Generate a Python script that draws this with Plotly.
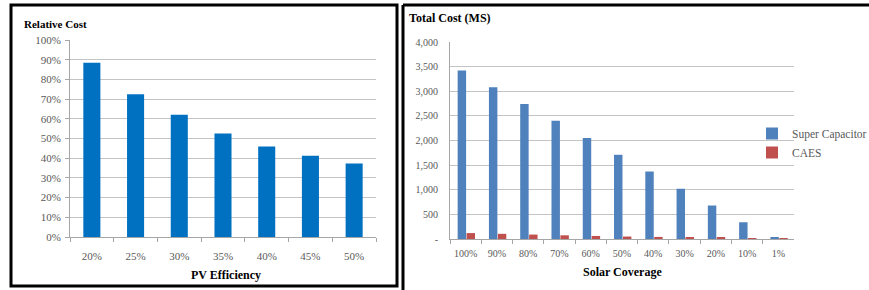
import plotly.graph_objects as go

# ---------------- data ----------------
pv_efficiency = ["20%", "25%", "30%", "35%", "40%", "45%", "50%"]
relative_cost = [88.5, 72.5, 62, 52.5, 46, 41.3, 37.3]

solar_coverage = ["100%", "90%", "80%", "70%", "60%", "50%", "40%", "30%", "20%", "10%", "1%"]
super_capacitor = [3420, 3080, 2740, 2400, 2050, 1710, 1370, 1020, 680, 340, 30]
caes = [120, 105, 90, 75, 62, 50, 42, 32, 25, 12, 5]

left_yticks = [0, 10, 20, 30, 40, 50, 60, 70, 80, 90, 100]
left_yticklabels = ["0%", "10%", "20%", "30%", "40%", "50%", "60%", "70%", "80%", "90%", "100%"]
right_yticks = [0, 500, 1000, 1500, 2000, 2500, 3000, 3500, 4000]
right_yticklabels = ["-", "500", "1,000", "1,500", "2,000", "2,500", "3,000", "3,500", "4,000"]

# ---------------- layout helpers ----------------
W, H = 869, 290
def fx(px):
    return px / W
def fy(py):
    return 1 - py / H

FONT = '"Liberation Serif", "Times New Roman", serif'
TICK_COLOR = "#595959"
GRID = "#C4C4C4"
AXIS = "#A6A6A6"

fig = go.Figure()

fig.add_trace(go.Bar(
    x=pv_efficiency, y=relative_cost, name="Relative Cost",
    marker=dict(color="#0070C0", line=dict(width=0)),
    width=0.39, showlegend=False, xaxis="x", yaxis="y",
))

fig.add_trace(go.Bar(
    x=solar_coverage, y=super_capacitor, name="Super Capacitor",
    marker=dict(color="#4F81BD", line=dict(width=0)),
    width=0.27, offset=-0.255, xaxis="x2", yaxis="y2",
))
fig.add_trace(go.Bar(
    x=solar_coverage, y=caes, name="CAES",
    marker=dict(color="#C0504D", line=dict(width=0)),
    width=0.27, offset=0.03, xaxis="x2", yaxis="y2",
))

tickfont = dict(family=FONT, size=11, color=TICK_COLOR)
tickfont_small = dict(family=FONT, size=10, color=TICK_COLOR)

fig.update_layout(
    width=W, height=H,
    margin=dict(l=0, r=0, t=0, b=0, autoexpand=False),
    paper_bgcolor="white", plot_bgcolor="white",
    font=dict(family=FONT, size=11, color="black"),
    xaxis=dict(domain=[fx(70), fx(376)], anchor="y", type="category",
               showgrid=False, showline=True, linecolor=AXIS, linewidth=1,
               ticks="outside", tickson="boundaries", ticklen=4, tickcolor=AXIS,
               tickfont=tickfont, tickangle=0, ticklabelstandoff=9, automargin=False),
    yaxis=dict(domain=[fy(237), fy(40)], anchor="x", range=[0, 100],
               tickmode="array", tickvals=left_yticks, ticktext=left_yticklabels,
               showgrid=True, gridcolor=GRID, gridwidth=1,
               showline=True, linecolor=AXIS, linewidth=1,
               ticks="outside", ticklen=4, tickcolor=AXIS,
               tickfont=tickfont, zeroline=False, ticklabelstandoff=2, automargin=False),
    xaxis2=dict(domain=[fx(450), fx(794)], anchor="y2", type="category",
                showgrid=False, showline=True, linecolor=AXIS, linewidth=1,
                ticks="outside", tickson="boundaries", ticklen=4, tickcolor=AXIS,
                tickfont=tickfont_small, tickangle=0, ticklabelstandoff=5, automargin=False),
    yaxis2=dict(domain=[fy(239), fy(42)], anchor="x2", range=[0, 4000],
                tickmode="array", tickvals=right_yticks, ticktext=right_yticklabels,
                showgrid=True, gridcolor=GRID, gridwidth=1,
                showline=True, linecolor=AXIS, linewidth=1,
                ticks="", tickfont=tickfont_small, zeroline=False,
                ticklabelstandoff=9, automargin=False),
    legend=dict(x=fx(752), y=fy(119), xanchor="left", yanchor="top",
                font=dict(family=FONT, size=11.5, color=TICK_COLOR),
                bgcolor="rgba(0,0,0,0)", borderwidth=0,
                itemwidth=30, tracegroupgap=0, traceorder="normal"),
    showlegend=True,
)

annotations = [
    dict(text="<b>Relative Cost</b>", x=fx(22), y=fy(24), xanchor="left", yanchor="middle",
         font=dict(family=FONT, size=11, color="black")),
    dict(text="<b>PV Efficiency</b>", x=fx(226), y=fy(275), xanchor="center", yanchor="middle",
         font=dict(family=FONT, size=12, color="black")),
    dict(text="<b>Total Cost (MS)</b>", x=fx(407), y=fy(18), xanchor="left", yanchor="middle",
         font=dict(family=FONT, size=12, color="black")),
    dict(text="<b>Solar Coverage</b>", x=fx(622), y=fy(272), xanchor="center", yanchor="middle",
         font=dict(family=FONT, size=12, color="black")),
]
for a in annotations:
    a.update(xref="paper", yref="paper", showarrow=False)
fig.update_layout(annotations=annotations)

shapes = [
    # left frame
    dict(type="rect", x0=fx(11), x1=fx(397), y0=fy(286), y1=fy(5),
         line=dict(color="black", width=3)),
    # right frame (top and left edges)
    dict(type="line", x0=fx(403), x1=fx(869), y0=fy(5), y1=fy(5),
         line=dict(color="black", width=3)),
    dict(type="line", x0=fx(403), x1=fx(403), y0=fy(5), y1=fy(292),
         line=dict(color="black", width=3)),
]
for s in shapes:
    s.update(xref="paper", yref="paper", layer="above")
fig.update_layout(shapes=shapes)

fig.write_html(
    "out.html",
    config={"displayModeBar": False},
    post_script="document.body.style.margin='0';document.body.style.overflow='hidden';",
)
